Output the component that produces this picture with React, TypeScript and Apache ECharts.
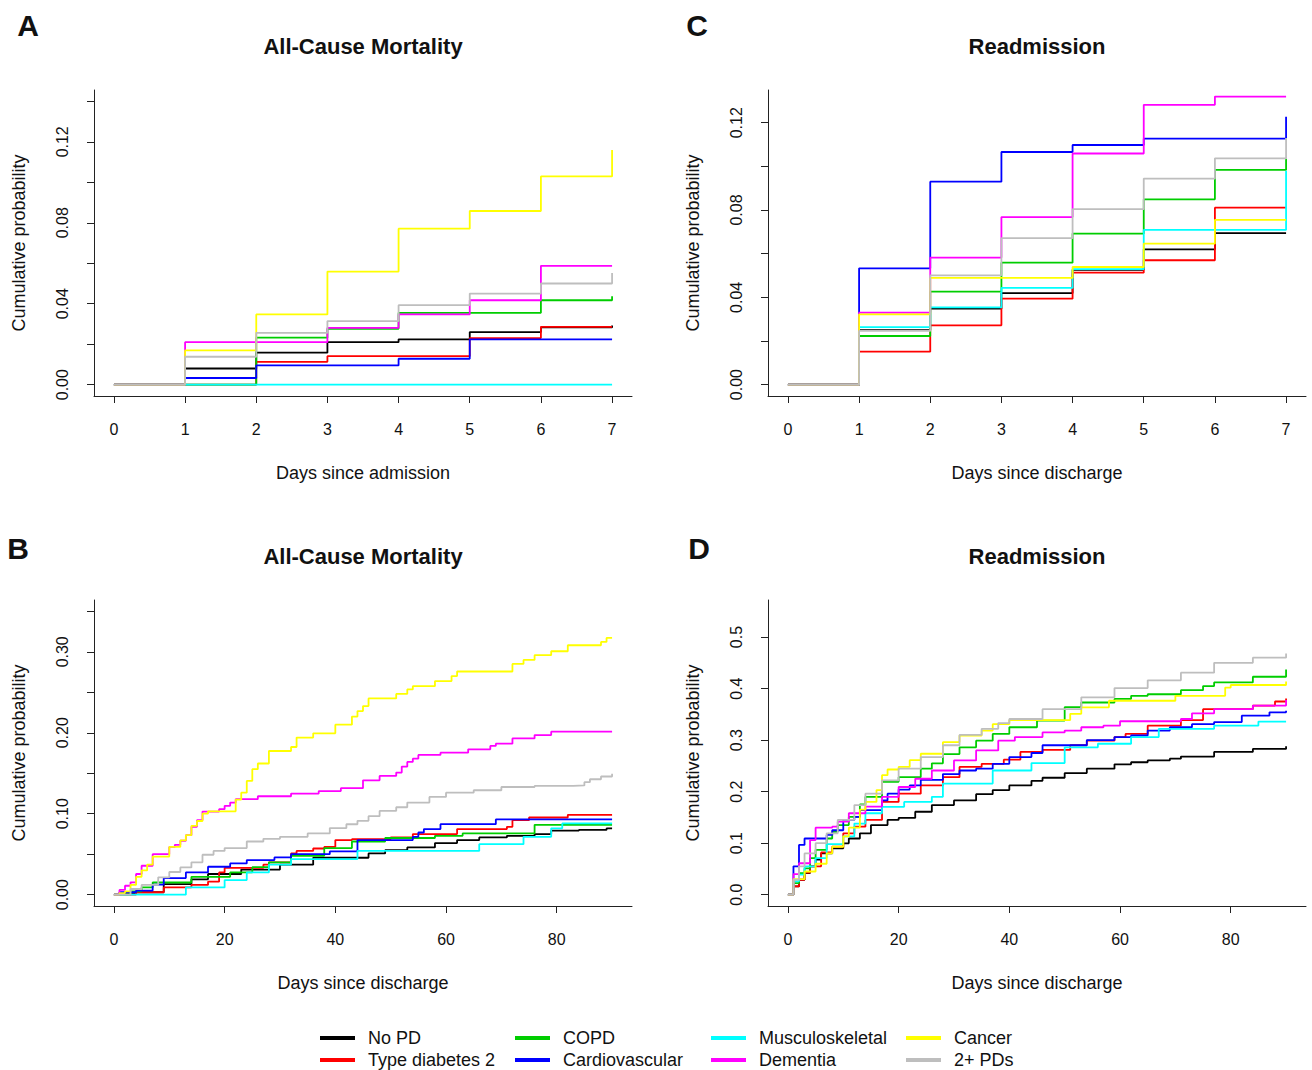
import React, { useEffect, useRef } from "react";
import * as echarts from "echarts";

// ---------- categories & colours ----------
const groups = ["No PD", "Type diabetes 2", "COPD", "Cardiovascular", "Musculoskeletal", "Dementia", "Cancer", "2+ PDs"];
const colors = ["#000000", "#FF0000", "#00CD00", "#0000FF", "#00FFFF", "#FF00FF", "#FFFF00", "#BEBEBE"];

// ---------- Panel A: all-cause mortality, days since admission (value after each day's jump) ----------
const daysShort = [0, 1, 2, 3, 4, 5, 6, 7];
const aNoPD = [0, 0.008, 0.0158, 0.021, 0.0224, 0.026, 0.0283, 0.0292];
const aT2D = [0, 0, 0.0113, 0.0141, 0.0141, 0.023, 0.0286, 0.0286];
const aCOPD = [0, 0, 0.0232, 0.0276, 0.0355, 0.0355, 0.0417, 0.0437];
const aCardio = [0, 0.0033, 0.0095, 0.0095, 0.0128, 0.0224, 0.0224, 0.0224];
const aMusc = [0, 0, 0, 0, 0, 0, 0, 0];
const aDementia = [0, 0.021, 0.021, 0.0281, 0.0347, 0.0417, 0.0587, 0.0587];
const aCancer = [0, 0.0169, 0.0347, 0.0559, 0.0771, 0.0858, 0.1029, 0.116];
const aMulti = [0, 0.0138, 0.0256, 0.0314, 0.0393, 0.045, 0.05, 0.0552];

// ---------- Panel C: readmission, days since discharge ----------
const cNoPD = [0, 0.025, 0.0348, 0.0419, 0.0526, 0.062, 0.0694, 0.0694];
const cT2D = [0, 0.0151, 0.0272, 0.0394, 0.0513, 0.057, 0.0811, 0.0811];
const cCOPD = [0, 0.0223, 0.0426, 0.0559, 0.0692, 0.0849, 0.0984, 0.1035];
const cCardio = [0, 0.0533, 0.093, 0.1066, 0.1098, 0.1127, 0.1127, 0.1228];
const cMusc = [0, 0.0264, 0.0354, 0.0443, 0.0529, 0.0709, 0.0709, 0.098];
const cDementia = [0, 0.033, 0.0582, 0.0768, 0.1059, 0.1282, 0.132, 0.132];
const cCancer = [0, 0.0322, 0.0489, 0.0489, 0.0539, 0.0646, 0.0755, 0.0755];
const cMulti = [0, 0.0246, 0.0501, 0.0671, 0.0804, 0.0944, 0.1037, 0.113];

// ---------- Panel B: all-cause mortality, days since discharge [day, value] ----------
const bNoPD = [[0, 0], [1, 0.0015], [4, 0.003], [9, 0.013], [14, 0.019], [17, 0.0255], [23, 0.031], [30, 0.037], [36, 0.0456], [46, 0.051], [49, 0.055], [53, 0.0584], [58, 0.0637], [62, 0.0674], [66, 0.0707], [71, 0.0727], [76, 0.0748], [79, 0.079], [84, 0.08], [89, 0.0818], [90, 0.0818]];
const bT2D = [[0, 0], [4, 0.003], [9, 0.009], [14, 0.012], [17, 0.016], [19, 0.0275], [20, 0.033], [27, 0.037], [28, 0.04], [32, 0.051], [33, 0.054], [36, 0.057], [38, 0.059], [40, 0.0674], [43, 0.0686], [50, 0.0707], [54, 0.0748], [62, 0.081], [71, 0.0838], [72, 0.092], [75, 0.0953], [82, 0.0986], [90, 0.0986]];
const bCOPD = [[0, 0], [3, 0.004], [5, 0.009], [7, 0.015], [14, 0.022], [21, 0.0275], [25, 0.034], [28, 0.04], [32, 0.048], [38, 0.0575], [43, 0.0657], [49, 0.07], [58, 0.0727], [63, 0.0756], [76, 0.0863], [90, 0.0863]];
const bCardio = [[0, 0], [1, 0.003], [4, 0.005], [7, 0.0123], [9, 0.0205], [13, 0.0275], [17, 0.0345], [21, 0.0386], [24, 0.0427], [29, 0.046], [32, 0.05], [39, 0.0534], [44, 0.0674], [54, 0.0715], [55, 0.0768], [56, 0.081], [59, 0.0871], [69, 0.093], [90, 0.093]];
const bMusc = [[0, 0], [13, 0.009], [20, 0.018], [24, 0.0275], [28, 0.037], [32, 0.044], [44, 0.054], [66, 0.0624], [74, 0.0715], [79, 0.082], [81, 0.088], [90, 0.088]];
const bDementia = [[0, 0], [1, 0.0058], [2, 0.011], [3, 0.0152], [4, 0.0255], [5, 0.0357], [7, 0.05], [10, 0.059], [11, 0.0616], [12, 0.0666], [13, 0.0735], [14, 0.0838], [15, 0.092], [16, 0.1027], [19, 0.1056], [20, 0.1097], [21, 0.1138], [22, 0.118], [26, 0.1216], [32, 0.1249], [37, 0.128], [41, 0.1315], [45, 0.1413], [48, 0.1467], [51, 0.1508], [52, 0.1582], [53, 0.164], [54, 0.168], [55, 0.1726], [59, 0.1754], [64, 0.1795], [68, 0.1837], [69, 0.1865], [72, 0.193], [76, 0.1972], [79, 0.2013], [90, 0.2013]];
const bCancer = [[0, 0], [1, 0.002], [2, 0.004], [3, 0.012], [4, 0.022], [5, 0.03], [6, 0.037], [7, 0.047], [10, 0.059], [12, 0.067], [13, 0.0735], [14, 0.085], [15, 0.091], [16, 0.1], [17, 0.103], [22, 0.1175], [23, 0.126], [24, 0.1405], [25, 0.155], [26, 0.162], [28, 0.1775], [32, 0.1824], [33, 0.194], [36, 0.1993], [40, 0.21], [43, 0.22], [44, 0.2268], [45, 0.233], [46, 0.2424], [51, 0.248], [53, 0.2535], [54, 0.2576], [58, 0.2638], [61, 0.27], [62, 0.2757], [72, 0.285], [74, 0.29], [76, 0.2958], [79, 0.3007], [82, 0.3081], [88, 0.3122], [89, 0.3172], [90, 0.3172]];
const bMulti = [[0, 0], [3, 0.007], [5, 0.012], [8, 0.0214], [10, 0.028], [12, 0.0337], [14, 0.04], [16, 0.0493], [18, 0.054], [20, 0.0575], [24, 0.0657], [27, 0.069], [30, 0.0715], [35, 0.0756], [39, 0.0822], [42, 0.087], [44, 0.0912], [46, 0.097], [48, 0.1035], [51, 0.108], [53, 0.1138], [57, 0.1208], [60, 0.126], [65, 0.129], [70, 0.133], [76, 0.1343], [83, 0.135], [85, 0.139], [86, 0.1426], [88, 0.146], [90, 0.1495]];

// ---------- Panel D: readmission, days since discharge [day, value] ----------
const dNoPD = [[0, 0], [1, 0.016], [2, 0.029], [3, 0.042], [4, 0.055], [5, 0.068], [6, 0.08], [8, 0.09], [10, 0.0997], [11, 0.109], [13, 0.119], [15, 0.135], [18, 0.145], [20, 0.149], [23, 0.161], [26, 0.174], [30, 0.183], [34, 0.195], [37, 0.203], [40, 0.212], [44, 0.221], [46, 0.227], [50, 0.236], [54, 0.2445], [59, 0.253], [62, 0.257], [65, 0.2606], [69, 0.264], [71, 0.268], [77, 0.277], [84, 0.283], [90, 0.288]];
const dT2D = [[0, 0], [1, 0.016], [2, 0.029], [3, 0.043], [4, 0.055], [6, 0.082], [8, 0.093], [10, 0.119], [12, 0.132], [14, 0.145], [17, 0.18], [20, 0.196], [24, 0.212], [28, 0.228], [31, 0.248], [35, 0.254], [39, 0.262], [42, 0.277], [46, 0.281], [51, 0.29], [54, 0.299], [59, 0.306], [61, 0.312], [65, 0.328], [71, 0.339], [75, 0.36], [84, 0.367], [88, 0.375], [90, 0.381]];
const dCOPD = [[0, 0], [1, 0.0225], [2, 0.042], [3, 0.051], [4, 0.071], [5, 0.087], [7, 0.109], [8, 0.122], [9, 0.135], [11, 0.151], [13, 0.175], [14, 0.19], [17, 0.219], [20, 0.228], [24, 0.2445], [26, 0.255], [28, 0.273], [31, 0.286], [34, 0.299], [37, 0.312], [40, 0.325], [45, 0.338], [50, 0.364], [53, 0.373], [59, 0.38], [62, 0.386], [65, 0.389], [71, 0.397], [75, 0.405], [77, 0.412], [84, 0.423], [90, 0.437]];
const dCardio = [[0, 0], [1, 0.055], [2, 0.0965], [3, 0.109], [7, 0.116], [8, 0.125], [10, 0.145], [12, 0.151], [13, 0.164], [17, 0.183], [18, 0.196], [20, 0.204], [22, 0.212], [24, 0.223], [28, 0.234], [31, 0.241], [34, 0.2445], [37, 0.254], [40, 0.267], [44, 0.275], [46, 0.29], [54, 0.3], [59, 0.306], [62, 0.309], [65, 0.3185], [69, 0.325], [73, 0.331], [77, 0.335], [82, 0.3475], [87, 0.354], [90, 0.357]];
const dMusc = [[0, 0], [1, 0.026], [2, 0.039], [3, 0.055], [5, 0.071], [7, 0.098], [10, 0.113], [12, 0.138], [14, 0.158], [17, 0.1705], [21, 0.18], [26, 0.19], [28, 0.2156], [37, 0.241], [44, 0.2555], [50, 0.286], [56, 0.293], [62, 0.306], [67, 0.322], [77, 0.328], [85, 0.336], [90, 0.336]];
const dDementia = [[0, 0], [1, 0.04], [2, 0.061], [4, 0.106], [5, 0.13], [8, 0.132], [9, 0.1416], [11, 0.158], [14, 0.171], [17, 0.19], [20, 0.209], [23, 0.225], [26, 0.241], [30, 0.2606], [34, 0.28], [38, 0.299], [41, 0.306], [46, 0.315], [50, 0.3186], [53, 0.325], [57, 0.328], [60, 0.3366], [71, 0.341], [73, 0.352], [77, 0.36], [84, 0.367], [90, 0.378]];
const dCancer = [[0, 0], [1, 0.03], [3, 0.045], [5, 0.06], [7, 0.08], [8, 0.093], [10, 0.113], [11, 0.13], [13, 0.165], [14, 0.18], [16, 0.203], [17, 0.232], [18, 0.243], [20, 0.248], [22, 0.261], [24, 0.2735], [28, 0.296], [31, 0.309], [35, 0.3185], [37, 0.331], [40, 0.339], [51, 0.351], [53, 0.3636], [58, 0.3764], [70, 0.386], [79, 0.402], [80, 0.407], [90, 0.414]];
const dMulti = [[0, 0], [1, 0.029], [2, 0.055], [3, 0.08], [5, 0.1], [7, 0.119], [9, 0.145], [12, 0.174], [14, 0.196], [17, 0.222], [20, 0.2445], [24, 0.267], [28, 0.29], [31, 0.31], [35, 0.322], [38, 0.333], [40, 0.341], [46, 0.36], [53, 0.383], [59, 0.401], [65, 0.416], [71, 0.431], [77, 0.45], [84, 0.46], [90, 0.468]];

// ---------- tick values ----------
const xTicksShort = [0, 1, 2, 3, 4, 5, 6, 7];
const xTicksLong = [0, 20, 40, 60, 80];
const yTicksA = [0, 0.02, 0.04, 0.06, 0.08, 0.1, 0.12, 0.14];
const yLabelsA = [0, 0.04, 0.08, 0.12];
const yTicksC = [0, 0.02, 0.04, 0.06, 0.08, 0.1, 0.12];
const yLabelsC = [0, 0.04, 0.08, 0.12];
const yTicksB = [0, 0.05, 0.1, 0.15, 0.2, 0.25, 0.3, 0.35];
const yLabelsB = [0, 0.1, 0.2, 0.3];
const yTicksD = [0, 0.1, 0.2, 0.3, 0.4, 0.5];

const FONT = "'Liberation Sans', Arial, Helvetica, sans-serif";
const AXIS_COLOR = "#222";
const TEXT_COLOR = "#111";

const pairUp = (vals: number[]) => vals.map((v, i) => [daysShort[i], v]);

const panelA = [aNoPD, aT2D, aCOPD, aCardio, aMusc, aDementia, aCancer, aMulti].map(pairUp);
const panelC = [cNoPD, cT2D, cCOPD, cCardio, cMusc, cDementia, cCancer, cMulti].map(pairUp);
const panelB = [bNoPD, bT2D, bCOPD, bCardio, bMusc, bDementia, bCancer, bMulti];
const panelD = [dNoPD, dT2D, dCOPD, dCardio, dMusc, dDementia, dCancer, dMulti];

function makeX(gridIndex: number, min: number, max: number, ticks: number[], name: string) {
  return {
    type: "value", gridIndex, min, max, name,
    nameLocation: "middle", nameGap: 68,
    nameTextStyle: { fontSize: 18, color: TEXT_COLOR, fontFamily: FONT },
    axisLine: { show: true, onZero: false, lineStyle: { color: AXIS_COLOR, width: 1 } },
    axisTick: { show: true, length: 7, customValues: ticks, lineStyle: { color: AXIS_COLOR, width: 1 } },
    axisLabel: { show: true, customValues: ticks, margin: 25, fontSize: 16, color: TEXT_COLOR, fontFamily: FONT, formatter: (v: number) => String(Math.round(v)) },
    splitLine: { show: false },
  };
}

function makeY(gridIndex: number, min: number, max: number, ticks: number[], labels: number[], digits: number) {
  return {
    type: "value", gridIndex, min, max, name: "Cumulative probability",
    nameLocation: "middle", nameGap: 66, nameRotate: 90,
    nameTextStyle: { fontSize: 18, color: TEXT_COLOR, fontFamily: FONT },
    axisLine: { show: true, onZero: false, lineStyle: { color: AXIS_COLOR, width: 1 } },
    axisTick: { show: true, length: 7, customValues: ticks, lineStyle: { color: AXIS_COLOR, width: 1 } },
    axisLabel: { show: true, customValues: labels, rotate: 90, margin: 24, fontSize: 16, color: TEXT_COLOR, fontFamily: FONT, formatter: (v: number) => v.toFixed(digits) },
    splitLine: { show: false },
  };
}

function panelSeries(gridIndex: number, data: number[][][]) {
  return data.map((d, i) => ({
    type: "line", name: groups[i], xAxisIndex: gridIndex, yAxisIndex: gridIndex,
    data: d, step: "end", showSymbol: false, symbol: "none", silent: true,
    lineStyle: { color: colors[i], width: 1.8 }, itemStyle: { color: colors[i] },
  }));
}

function textEl(text: string, x: number, y: number, size: number, bold: boolean, align = "center") {
  return {
    type: "text", x, y, silent: true,
    style: { text, fontSize: size, fontWeight: bold ? "bold" : "normal", fontFamily: FONT, fill: TEXT_COLOR, align, verticalAlign: "middle" },
  };
}

function legendEls() {
  const colX = [320, 515, 711, 906];
  const rowY = [1038, 1060];
  const els: any[] = [];
  groups.forEach((g, i) => {
    const col = Math.floor(i / 2);
    const row = i % 2;
    const x = colX[col];
    const y = rowY[row];
    els.push({ type: "line", silent: true, shape: { x1: x, y1: y, x2: x + 35, y2: y }, style: { stroke: colors[i], lineWidth: 4 } });
    els.push(textEl(g, x + 48, y, 18, false, "left"));
  });
  return els;
}

export default function App() {
  const ref = useRef<HTMLDivElement>(null);
  useEffect(() => {
    if (!ref.current) return;
    const chart = echarts.init(ref.current, null, { renderer: "svg" });
    const option = {
      animation: false,
      backgroundColor: "#ffffff",
      grid: [
        { left: 94, top: 90, width: 538, height: 306 },
        { left: 768, top: 90, width: 538, height: 306 },
        { left: 94, top: 600, width: 538, height: 306 },
        { left: 768, top: 600, width: 538, height: 306 },
      ],
      xAxis: [
        makeX(0, -0.28, 7.28, xTicksShort, "Days since admission"),
        makeX(1, -0.28, 7.28, xTicksShort, "Days since discharge"),
        makeX(2, -3.6, 93.6, xTicksLong, "Days since discharge"),
        makeX(3, -3.6, 93.6, xTicksLong, "Days since discharge"),
      ],
      yAxis: [
        makeY(0, -0.0056, 0.1456, yTicksA, yLabelsA, 2),
        makeY(1, -0.0052, 0.135, yTicksC, yLabelsC, 2),
        makeY(2, -0.014, 0.364, yTicksB, yLabelsB, 2),
        makeY(3, -0.022, 0.572, yTicksD, yTicksD, 1),
      ],
      series: [
        ...panelSeries(0, panelA),
        ...panelSeries(1, panelC),
        ...panelSeries(2, panelB),
        ...panelSeries(3, panelD),
      ],
      graphic: [
        textEl("A", 28, 25, 30, true),
        textEl("All-Cause Mortality", 363, 46, 22, true),
        textEl("C", 697, 25, 30, true),
        textEl("Readmission", 1037, 46, 22, true),
        textEl("B", 18, 548, 30, true),
        textEl("All-Cause Mortality", 363, 556, 22, true),
        textEl("D", 699, 548, 30, true),
        textEl("Readmission", 1037, 556, 22, true),
        ...legendEls(),
      ],
    };
    chart.setOption(option as any);
    return () => chart.dispose();
  }, []);
  return <div ref={ref} style={{ position: "absolute", left: 0, top: 0, width: 1312, height: 1070, background: "#fff" }} />;
}
